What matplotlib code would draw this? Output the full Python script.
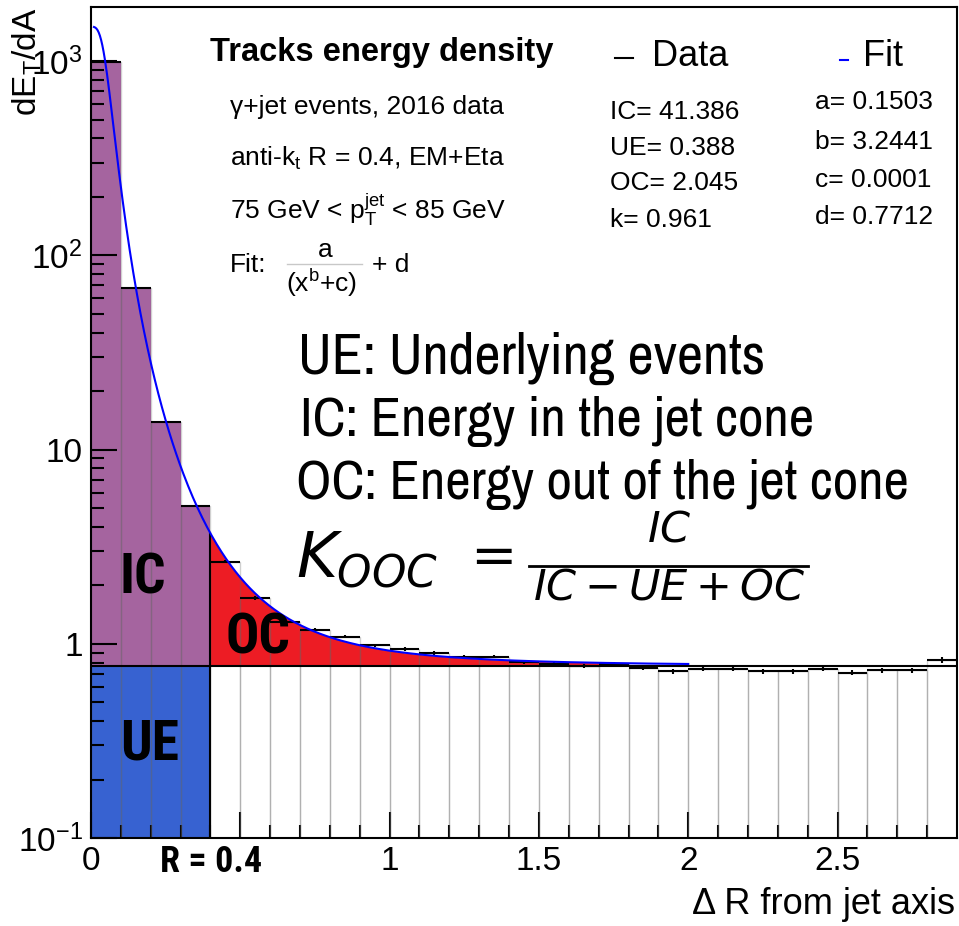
import numpy as np
import matplotlib
matplotlib.use('Agg')
import matplotlib.pyplot as plt
from matplotlib.ticker import FixedLocator, NullFormatter
from matplotlib.lines import Line2D

W, H = 959, 926
plt.rcParams['font.family'] = ['Liberation Sans', 'DejaVu Sans']
plt.rcParams['mathtext.fontset'] = 'dejavusans'

# ---------------- data ----------------
bin_width = 0.1
bin_low = [0.0, 0.1, 0.2, 0.3, 0.4, 0.5, 0.6, 0.7, 0.8, 0.9,
           1.0, 1.1, 1.2, 1.3, 1.4, 1.5, 1.6, 1.7, 1.8, 1.9,
           2.0, 2.1, 2.2, 2.3, 2.4, 2.5, 2.6, 2.7, 2.8]
values = [985, 68, 13.9, 5.15, 2.65, 1.72, 1.30, 1.18, 1.09, 0.98,
          0.94, 0.90, 0.86, 0.86, 0.81, 0.79, 0.77, 0.79, 0.75, 0.72,
          0.74, 0.74, 0.72, 0.72, 0.74, 0.71, 0.73, 0.73, 0.83]
errors = [8, 0.8, 0.2, 0.08, 0.05, 0.04, 0.03, 0.03, 0.025, 0.02,
          0.02, 0.02, 0.02, 0.02, 0.02, 0.02, 0.02, 0.02, 0.02, 0.02,
          0.02, 0.02, 0.02, 0.02, 0.02, 0.02, 0.02, 0.02, 0.03]
fit_a, fit_b, fit_c, fit_d = 0.1503, 3.2441, 0.0001, 0.7712
R_cone = 0.4
fit_range = (0.01, 2.0)
oc_end = 1.8
stats_left = ["IC= 41.386", "UE= 0.388", "OC= 2.045", "k= 0.961"]
stats_right = ["a= 0.1503", "b= 3.2441", "c= 0.0001", "d= 0.7712"]
xtick_vals = [0, 0.5, 1, 1.5, 2, 2.5]
xtick_labels = ['0', '', '1', '1.5', '2', '2.5']
ytick_vals = [0.1, 1, 10, 100, 1000]
ytick_labels = [r'$\mathregular{10^{-1}}$', '1', '10',
                r'$\mathregular{10^{2}}$', r'$\mathregular{10^{3}}$']

def fit(x):
    return fit_a / (x ** fit_b + fit_c) + fit_d

lo = np.array(bin_low)
vals = np.array(values)
centers = lo + bin_width / 2
YMIN, YMAX = 0.1, 1900

fig = plt.figure(figsize=(W / 100, H / 100), dpi=100)
ax = fig.add_axes([91 / W, 1 - 838 / H, (957 - 91) / W, (838 - 7) / H])
ax.set_yscale('log')
ax.set_xlim(0, 2.9)
ax.set_ylim(YMIN, YMAX)

# UE region
ax.fill_between([0, R_cone], YMIN, fit_d, color='#3762D1', lw=0, zorder=1)
# IC region (histogram bars above d)
nin = 4
ax.bar(lo[:nin], vals[:nin] - fit_d, bottom=fit_d, width=bin_width, align='edge',
       color='#A5649F', lw=0, zorder=1)
# OC region under fit
xr = np.linspace(R_cone, oc_end, 300)
ax.fill_between(xr, fit_d, fit(xr), color='#ED1C24', lw=0, zorder=1)
# histogram outlines
ax.bar(lo, vals - YMIN, bottom=YMIN, width=bin_width, align='edge',
       facecolor='none', edgecolor=(0.4, 0.4, 0.4, 0.3), lw=1.0, zorder=2)
# d line & cone line
ax.axhline(fit_d, color='k', lw=1.5, zorder=3)
ax.plot([R_cone, R_cone], [YMIN, fit(R_cone)], color='k', lw=1.5, zorder=3)
# data
ax.errorbar(centers, vals, xerr=bin_width / 2, yerr=errors, fmt='none',
            ecolor='k', elinewidth=1.5, capsize=0, zorder=4)
# fit
xf = np.linspace(fit_range[0], fit_range[1], 500)
ax.plot(xf, fit(xf), color='blue', lw=1.5, zorder=5)

# axes styling
for s in ax.spines.values():
    s.set_linewidth(1.5)
ax.set_xticks(xtick_vals)
ax.set_xticklabels(xtick_labels)
ax.xaxis.set_minor_locator(FixedLocator(np.arange(0.1, 2.9, 0.1)))
ax.set_yticks(ytick_vals)
ax.set_yticklabels(ytick_labels)
ax.yaxis.set_minor_locator(FixedLocator([m * 10.0 ** e for e in range(-1, 4) for m in range(2, 10)]))
ax.yaxis.set_minor_formatter(NullFormatter())
ax.tick_params(which='both', direction='in', top=False, right=False, width=1.5,
               labelsize=24, pad=6)
ax.tick_params(which='major', length=19)
ax.tick_params(which='minor', length=9.5)

def P(x, y):
    return x / W, 1 - y / H

def T(x, y, s, **kw):
    fig.text(*P(x, y), s, **kw)

def L(x0, x1, y, **kw):
    fig.add_artist(Line2D([x0 / W, x1 / W], [1 - y / H] * 2, transform=fig.transFigure, **kw))

narrow = ['Archivo Narrow', 'Liberation Sans']
narrow_bold = ['Roboto Condensed', 'IBM Plex Sans Condensed', 'Liberation Sans']

# axis titles
T(27, 8, r'$\mathregular{dE_{T}/dA}$', rotation=90, ha='center', va='top', fontsize=24)
T(955, 905, 'Δ R from jet axis', ha='right', va='center', fontsize=26)

# header texts
T(210, 52, 'Tracks energy density', fontsize=23.5, fontweight='bold', va='center')
T(230, 107, 'γ+jet events, 2016 data', fontsize=19, va='center')
T(230, 158, r'anti-$\mathregular{k_t}$ R = 0.4, EM+Eta', fontsize=19, va='center')
T(230, 210, r'75 GeV < $\mathregular{p_T^{jet}}$ < 85 GeV', fontsize=19, va='center')
T(230, 265, 'Fit:', fontsize=19, va='center')
T(325, 250, 'a', fontsize=19, va='center', ha='center')
L(287, 362, 264, color='#c8c8c8', lw=1)
T(322, 283, r'(x$^\mathregular{b}$+c)', fontsize=19, va='center', ha='center')
T(372, 265, '+ d', fontsize=19, va='center')

# legend
L(615, 633, 58, color='k', lw=1.5)
T(652, 57, 'Data', fontsize=26, va='center')
L(840, 848, 60, color='blue', lw=1.5)
T(863, 57, 'Fit', fontsize=26, va='center')
for sl, yl in zip(stats_left, [112, 148, 183, 220]):
    T(610, yl, sl, fontsize=19, va='center')
for sr, yr in zip(stats_right, [102, 142, 180, 217]):
    T(815, yr, sr, fontsize=19, va='center')

# big annotation
T(298, 358, 'UE: Underlying events', fontsize=41, family=narrow, va='center')
T(300, 421, 'IC: Energy in the jet cone', fontsize=40, family=narrow, va='center')
T(296, 485, 'OC: Energy out of the jet cone', fontsize=40, family=narrow, va='center')
T(296, 560, r'$K_{OOC}$', fontsize=45, va='center')
T(487, 558, r'$=$', fontsize=40, ha='center', va='center')
T(669, 531, r'$IC$', fontsize=31, ha='center', va='center')
L(529, 808, 566, color='k', lw=2.0)
T(669, 588, r'$IC-UE+OC$', fontsize=31, ha='center', va='center')

# region labels
T(143, 578, 'IC', fontsize=40, family=narrow_bold, fontweight='bold', ha='center', va='center')
T(258, 638, 'OC', fontsize=40, family=narrow_bold, fontweight='bold', ha='center', va='center')
T(150, 745, 'UE', fontsize=40, family=narrow_bold, fontweight='bold', ha='center', va='center')
T(211, 862, 'R = 0.4', fontsize=26, family=narrow_bold, fontweight='bold', ha='center', va='center')

fig.savefig('out.png', dpi=100)
